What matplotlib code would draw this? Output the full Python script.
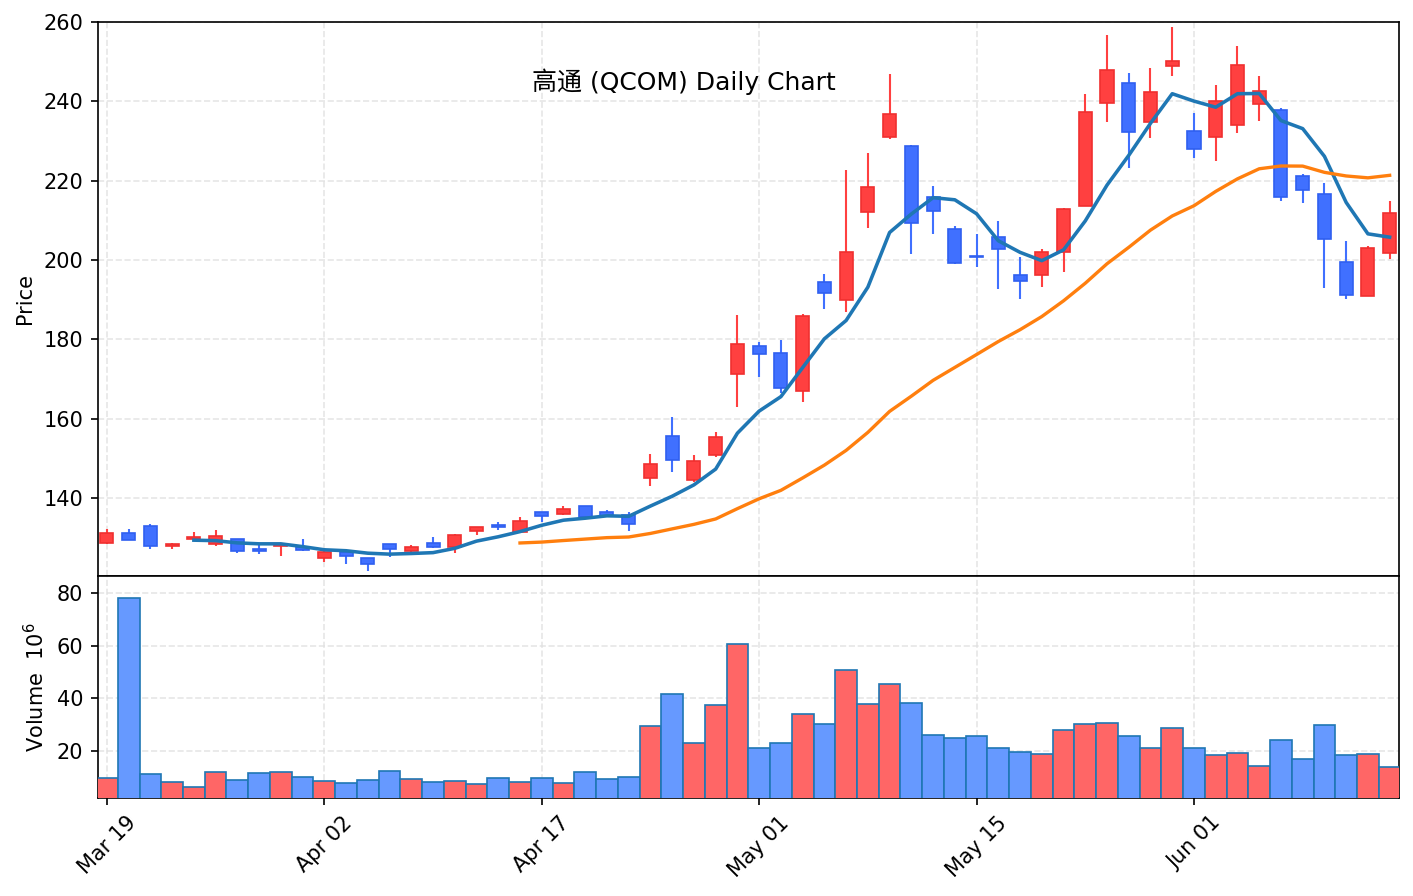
import matplotlib
matplotlib.use("Agg")
import matplotlib.pyplot as plt
import numpy as np
import pandas as pd

# ---- data ----
opens = [128.6, 131.1, 133.0, 127.8, 129.7, 128.3, 129.6, 127.2, 128.0, 127.7,
         124.8, 126.5, 124.8, 128.3, 126.7, 128.6, 127.7, 131.6, 133.3, 131.4,
         136.4, 135.9, 138.0, 136.5, 135.7, 145.0, 155.7, 144.5, 150.8, 171.3,
         178.4, 176.6, 167.0, 194.5, 189.9, 212.0, 230.9, 228.8, 215.8, 207.7,
         201.0, 205.9, 196.1, 196.2, 202.0, 213.6, 239.5, 244.5, 234.9, 249.0,
         232.4, 230.9, 234.0, 239.3, 237.8, 221.2, 216.6, 199.4, 191.0, 201.8]
highs = [132.2, 132.2, 133.5, 128.7, 131.5, 131.9, 129.8, 128.2, 128.7, 129.7,
         126.6, 126.6, 124.9, 128.4, 128.2, 130.3, 130.9, 132.7, 134.0, 135.2,
         136.5, 138.1, 138.1, 137.0, 136.4, 151.1, 160.5, 150.8, 156.7, 186.1,
         179.3, 179.8, 186.3, 196.6, 222.7, 226.9, 246.9, 229.0, 218.7, 208.6,
         206.6, 209.8, 200.7, 202.7, 213.2, 241.9, 256.7, 247.2, 248.5, 258.8,
         237.1, 244.1, 254.0, 246.4, 238.2, 221.7, 219.3, 204.8, 203.6, 214.9]
lows = [128.5, 129.3, 127.1, 127.1, 129.6, 128.0, 126.2, 126.0, 125.5, 126.7,
        123.8, 123.5, 121.7, 125.2, 126.5, 127.5, 126.2, 130.7, 132.0, 131.3,
        134.0, 135.8, 135.0, 135.5, 131.8, 143.1, 146.6, 144.0, 150.4, 163.0,
        170.6, 166.4, 164.3, 187.6, 187.0, 208.0, 230.4, 201.4, 206.5, 199.0,
        198.3, 192.7, 190.3, 193.3, 196.9, 213.5, 234.9, 223.3, 230.7, 246.4,
        225.8, 225.0, 232.1, 235.1, 214.9, 214.5, 192.9, 190.1, 190.9, 200.2]
closes = [131.1, 129.4, 127.8, 128.3, 130.3, 130.5, 126.6, 126.6, 128.3, 126.8,
          126.5, 125.4, 123.5, 127.1, 127.6, 127.6, 130.8, 132.6, 132.6, 134.1,
          135.6, 137.2, 135.1, 135.6, 133.5, 148.5, 149.6, 149.4, 155.5, 178.8,
          176.3, 167.8, 186.0, 191.8, 201.9, 218.3, 236.7, 209.3, 212.4, 199.2,
          200.7, 202.7, 194.7, 201.9, 212.8, 237.2, 247.8, 232.2, 242.3, 250.1,
          227.9, 240.1, 249.2, 242.6, 216.0, 217.7, 205.2, 191.1, 203.0, 211.8]
volumes_m = [9.6, 78.2, 11.2, 8.1, 6.5, 11.9, 8.9, 11.7, 11.9, 10.0,
             8.5, 7.7, 8.9, 12.3, 9.3, 8.1, 8.5, 7.4, 9.6, 8.1,
             9.6, 7.7, 11.9, 9.3, 10.0, 29.5, 41.5, 22.9, 37.3, 60.8,
             21.0, 22.9, 33.9, 30.2, 50.9, 37.7, 45.3, 38.4, 25.9, 24.8,
             25.6, 21.0, 19.5, 18.7, 27.8, 30.1, 30.5, 25.6, 21.0, 28.6,
             21.0, 18.4, 19.1, 14.2, 24.0, 16.8, 29.7, 18.4, 18.7, 13.8]
tick_labels = ["Mar 19", "Apr 02", "Apr 17", "May 01", "May 15", "Jun 01"]
title = "高通 (QCOM) Daily Chart"

# ---- derived ----
df = pd.DataFrame({"open": opens, "high": highs, "low": lows,
                   "close": closes, "volume": volumes_m})
x = np.arange(len(df))
up = df["close"] >= df["open"]
ma5 = df["close"].rolling(5).mean()
ma20 = df["close"].rolling(20).mean()

c_up, c_dn = "#ff4040", "#4070ff"
e_up, e_dn = "#f03030", "#3060f0"
v_up, v_dn = "#ff6666", "#6699ff"

fig = plt.figure(figsize=(1414 / 150, 896 / 150), dpi=150)
gs = fig.add_gridspec(2, 1, height_ratios=[554, 222], hspace=0,
                      left=98 / 1414, right=1399 / 1414,
                      top=1 - 22 / 896, bottom=1 - 798 / 896)
ax = fig.add_subplot(gs[0])
axv = fig.add_subplot(gs[1], sharex=ax)

colors = np.where(up, c_up, c_dn)
ecolors = np.where(up, e_up, e_dn)
ax.vlines(x, df["low"], df["high"], colors=colors, linewidth=1.0, zorder=2)
body_bottom = np.minimum(df["open"], df["close"])
body_h = np.maximum(np.abs(df["close"] - df["open"]), 0.15)
ax.bar(x, body_h, bottom=body_bottom, width=0.6, color=colors,
       edgecolor=ecolors, linewidth=0.8, zorder=3)
ax.plot(x, ma5, color="#1f77b4", linewidth=1.7, zorder=4)
ax.plot(x, ma20, color="#ff7f0e", linewidth=1.6, zorder=4)

ax.set_ylim(120.35, 260.0)
ax.set_xlim(-0.41, 59.43)
ax.set_ylabel("Price")
ax.grid(True, linestyle="--", color="#e0e0e0", alpha=0.8, linewidth=0.8)
ax.set_axisbelow(True)
ax.tick_params(axis="x", labelbottom=False)
ax.text(0.45, 0.893, title, transform=ax.transAxes, ha="center", va="center",
        fontsize=12, family=["DejaVu Sans", "Noto Sans CJK SC"])

vcolors = np.where(up, v_up, v_dn)
axv.bar(x, df["volume"], width=1.0, color=vcolors, edgecolor="#1f77b4",
        linewidth=0.8, zorder=3)
axv.set_ylim(2.15, 86.5)
axv.set_ylabel("Volume  $10^6$")
axv.grid(True, linestyle="--", color="#e0e0e0", alpha=0.8, linewidth=0.8)
axv.set_axisbelow(True)
axv.set_xticks(np.arange(0, len(df), 10)[:len(tick_labels)])
axv.set_xticklabels(tick_labels, rotation=45)

fig.savefig("out.png", dpi=150)
